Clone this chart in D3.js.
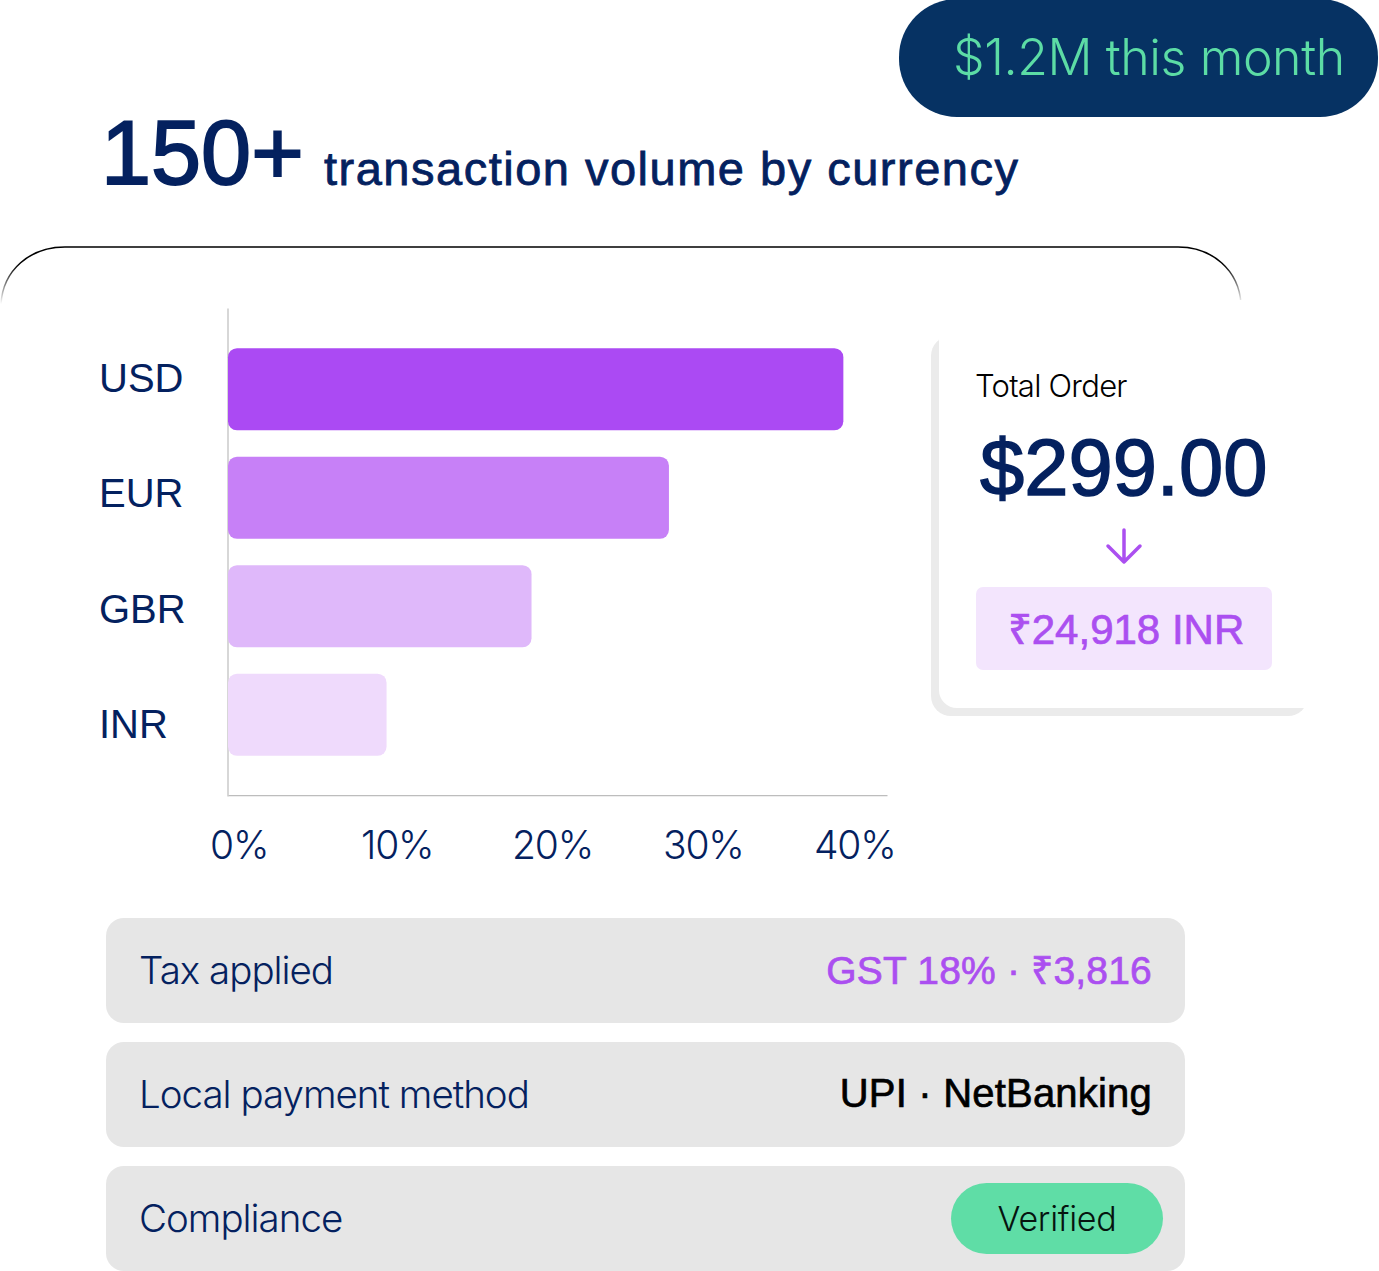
<!DOCTYPE html>
<html>
<head>
<meta charset="utf-8">
<script src="https://cdn.jsdelivr.net/npm/d3@7"></script>
<style>
  html, body { margin: 0; padding: 0; background: #fff; }
  svg { display: block; }
  text { font-family: "Liberation Sans", sans-serif; }
  .light { font-family: "Inter", sans-serif; font-weight: 300; }
  .geo { font-family: "Inter", sans-serif; font-weight: 300; }
</style>
</head>
<body>
<div id="main"></div>
<script>
const currencies = ["USD", "EUR", "GBR", "INR"];
const shares = [40.75, 29.2, 20.1, 10.5];
const barColors = ["#ab4af3", "#c780f7", "#dfb8fa", "#efdafc"];
const tickValues = [0, 10, 20, 30, 40];
const rowLabels = ["Tax applied", "Local payment method", "Compliance"];
const rowValues = ["GST 18% · ₹3,816", "UPI · NetBanking", ""];
const rowValueColors = ["#ab4ff0", "#000000", "#000000"];

const navy = "#04215f";
const purple = "#ab4ff0";
const green = "#5fdda6";

const svg = d3.select("#main").append("svg").attr("width", 1379).attr("height", 1271);

// top pill
svg.append("rect").attr("x", 899).attr("y", -1).attr("width", 479).attr("height", 118)
  .attr("rx", 58).attr("fill", "#063263");
svg.append("text").attr("class", "geo").attr("x", 953).attr("y", 75)
  .attr("font-size", 50).attr("letter-spacing", -0.4).attr("fill", "#5cdca5").text("$1.2M this month");

// heading
svg.append("text").attr("x", 101).attr("y", 184).attr("font-size", 90)
  .attr("fill", navy).attr("stroke", navy).attr("stroke-width", 2).text("150+");
svg.append("text").attr("x", 324).attr("y", 184.5).attr("font-size", 47).attr("letter-spacing", 1.5)
  .attr("fill", navy).attr("stroke", navy).attr("stroke-width", 0.8).text("transaction volume by currency");

// panel outline, fades out on the way down
const fade = svg.append("defs").append("linearGradient").attr("id", "fade")
  .attr("gradientUnits", "userSpaceOnUse").attr("x1", 0).attr("x2", 0).attr("y1", 247).attr("y2", 304);
fade.append("stop").attr("offset", 0.3).attr("stop-color", "#000");
fade.append("stop").attr("offset", 1).attr("stop-color", "#000").attr("stop-opacity", 0);
svg.append("path").attr("d", "M1,304 C3,270 30,247 65,247 L1178,247 C1212,247 1239,270 1241,304")
  .attr("fill", "none").attr("stroke", "url(#fade)").attr("stroke-width", 1.5);

// chart
const x = d3.scaleLinear().domain([0, 43.64]).range([228, 887]);
const y = d3.scaleBand().domain(currencies).range([308, 796]).paddingInner(0.243).paddingOuter(0.37);
const yLabels = d3.scalePoint().domain(currencies).range([377, 723]);

svg.append("g").attr("transform", "translate(227.5,0)")
  .call(d3.axisLeft(y).tickSize(0).tickFormat(""))
  .call(g => g.select(".domain").attr("stroke", "#bdbdbd").attr("stroke-width", 1.2));
svg.append("g").attr("transform", "translate(0,795.2)")
  .call(d3.axisBottom(x).tickValues([]).tickSize(0))
  .call(g => g.select(".domain").attr("stroke", "#bdbdbd").attr("stroke-width", 1.2));

svg.selectAll(".bar").data(currencies).enter().append("rect")
  .attr("class", "bar")
  .attr("x", x(0))
  .attr("y", d => y(d))
  .attr("width", (d, i) => x(shares[i]) - x(0))
  .attr("height", y.bandwidth())
  .attr("rx", 9)
  .attr("fill", (d, i) => barColors[i]);

svg.append("g").attr("transform", "translate(228,0)")
  .call(d3.axisLeft(yLabels).tickSize(0))
  .call(g => g.select(".domain").remove())
  .selectAll("text")
  .attr("x", -129).attr("dy", "0.36em")
  .attr("text-anchor", "start").attr("fill", navy)
  .style("font-family", '"Liberation Sans", sans-serif').style("font-size", "40px");

svg.append("g").attr("transform", "translate(0,796)")
  .call(d3.axisBottom(x).tickValues(tickValues).tickSize(0).tickFormat(d => d + "%"))
  .call(g => g.select(".domain").remove())
  .selectAll("text")
  .attr("class", "light").attr("dx", -18.5).attr("y", 63).attr("dy", 0)
  .attr("text-anchor", "start").attr("fill", navy).attr("letter-spacing", -1.2)
  .style("font-family", "Inter, sans-serif").style("font-weight", 300).style("font-size", "39px");

// order card
svg.append("rect").attr("x", 931).attr("y", 336).attr("width", 377).attr("height", 380)
  .attr("rx", 20).attr("fill", "#ebebeb");
svg.append("rect").attr("x", 939).attr("y", 300).attr("width", 390).attr("height", 408)
  .attr("rx", 18).attr("fill", "#fff");
svg.append("text").attr("class", "light").attr("x", 975).attr("y", 397).attr("font-size", 31)
  .attr("letter-spacing", -0.75).attr("fill", "#000").text("Total Order");
svg.append("text").attr("x", 980).attr("y", 495).attr("font-size", 79.5)
  .attr("fill", navy).attr("stroke", navy).attr("stroke-width", 1.5).text("$299.00");
svg.append("path").attr("d", "M1124,530 L1124,562 M1108,546 L1124,562 L1140,546")
  .attr("fill", "none").attr("stroke", purple).attr("stroke-width", 3.5)
  .attr("stroke-linecap", "round").attr("stroke-linejoin", "round");
svg.append("rect").attr("x", 976).attr("y", 587).attr("width", 296).attr("height", 83)
  .attr("rx", 7).attr("fill", "#f3e5fd");
svg.append("text").attr("x", 1126).attr("y", 644).attr("text-anchor", "middle").attr("font-size", 42)
  .attr("fill", purple).attr("stroke", purple).attr("stroke-width", 0.7).text("₹24,918 INR");

// detail rows
const rowY = d3.scaleBand().domain(rowLabels).range([918, 1271]).paddingInner(0.153).paddingOuter(0);
const rows = svg.selectAll(".row").data(rowLabels).enter().append("g")
  .attr("class", "row").attr("transform", d => `translate(106,${rowY(d)})`);
rows.append("rect").attr("width", 1079).attr("height", rowY.bandwidth()).attr("rx", 18).attr("fill", "#e6e6e6");
rows.append("text").attr("class", "light").attr("x", 33).attr("y", 66).attr("font-size", 38.5)
  .attr("letter-spacing", -1).attr("fill", navy).text(d => d);
rows.append("text").attr("x", 1046).attr("y", 65.5).attr("text-anchor", "end")
  .attr("font-size", (d, i) => i === 0 ? 39 : 40).attr("letter-spacing", 0.2)
  .attr("fill", (d, i) => rowValueColors[i]).attr("stroke", (d, i) => rowValueColors[i]).attr("stroke-width", 0.7)
  .text((d, i) => rowValues[i]);

// verified badge
svg.append("rect").attr("x", 951).attr("y", 1183).attr("width", 212).attr("height", 71)
  .attr("rx", 35.5).attr("fill", green);
svg.append("text").attr("class", "geo").attr("x", 1057).attr("y", 1231).attr("text-anchor", "middle")
  .attr("font-size", 34).attr("letter-spacing", -0.3).attr("fill", "#06140f").text("Verified");
</script>
</body>
</html>
